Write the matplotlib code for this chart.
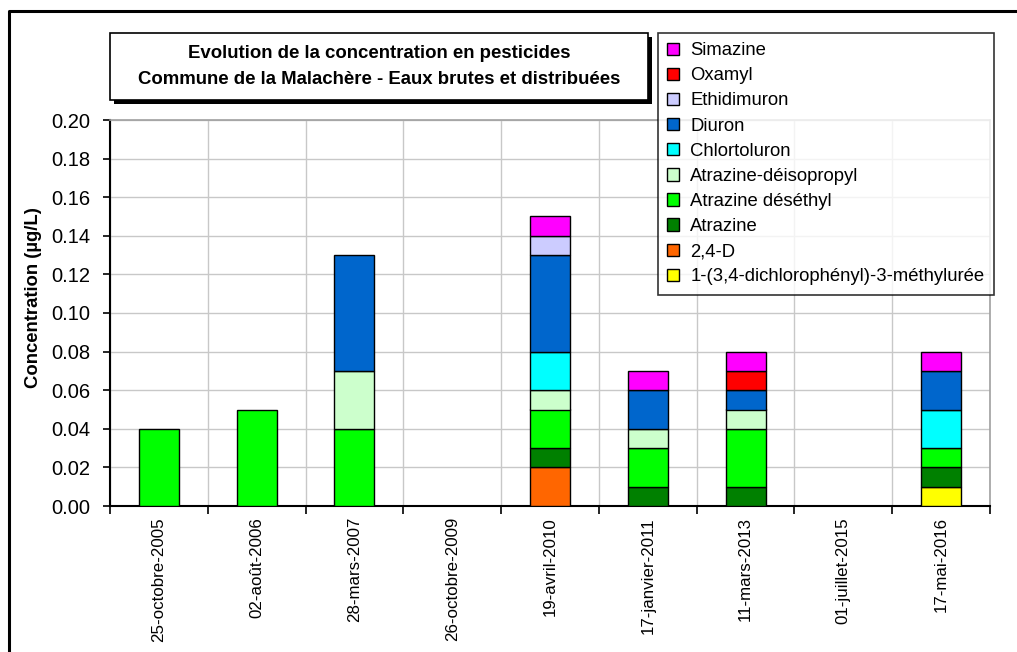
import matplotlib

matplotlib.use("Agg")
import matplotlib.pyplot as plt
import numpy as np
from matplotlib.lines import Line2D
from matplotlib.patches import Patch, Rectangle

plt.rcParams["font.family"] = ["Liberation Sans", "DejaVu Sans"]

dates = [
    "25-octobre-2005",
    "02-août-2006",
    "28-mars-2007",
    "26-octobre-2009",
    "19-avril-2010",
    "17-janvier-2011",
    "11-mars-2013",
    "01-juillet-2015",
    "17-mai-2016",
]

# stacked from bottom to top
dcpmu = [0, 0, 0, 0, 0, 0, 0, 0, 0.01]
d24 = [0, 0, 0, 0, 0.02, 0, 0, 0, 0]
atrazine = [0, 0, 0, 0, 0.01, 0.01, 0.01, 0, 0.01]
deseth = [0.04, 0.05, 0.04, 0, 0.02, 0.02, 0.03, 0, 0.01]
deisop = [0, 0, 0.03, 0, 0.01, 0.01, 0.01, 0, 0]
chlortoluron = [0, 0, 0, 0, 0.02, 0, 0, 0, 0.02]
diuron = [0, 0, 0.06, 0, 0.05, 0.02, 0.01, 0, 0.02]
ethidimuron = [0, 0, 0, 0, 0.01, 0, 0, 0, 0]
oxamyl = [0, 0, 0, 0, 0, 0, 0.01, 0, 0]
simazine = [0, 0, 0, 0, 0.01, 0.01, 0.01, 0, 0.01]

series = [
    ("1-(3,4-dichlorophényl)-3-méthylurée", dcpmu, "#FFFF00"),
    ("2,4-D", d24, "#FF6600"),
    ("Atrazine", atrazine, "#008000"),
    ("Atrazine déséthyl", deseth, "#00FF00"),
    ("Atrazine-déisopropyl", deisop, "#CCFFCC"),
    ("Chlortoluron", chlortoluron, "#00FFFF"),
    ("Diuron", diuron, "#0066CC"),
    ("Ethidimuron", ethidimuron, "#CCCCFF"),
    ("Oxamyl", oxamyl, "#FF0000"),
    ("Simazine", simazine, "#FF00FF"),
]

W, H = 1017, 652
fig = plt.figure(figsize=(W / 100, H / 100), dpi=100)
ax = fig.add_axes([110 / W, 1 - 506 / H, 880 / W, 386 / H])

x = np.arange(len(dates))
bottom = np.zeros(len(dates))
for name, vals, col in series:
    vals = np.asarray(vals, dtype=float)
    nz = vals > 0  # empty segments would leave a stray outline
    ax.bar(x[nz], vals[nz], 0.41, bottom=bottom[nz], color=col,
           edgecolor="black", lw=1.0, zorder=3)
    bottom += vals

ax.set_xlim(-0.5, len(dates) - 0.5)
ax.set_ylim(0, 0.20)
yt = np.arange(0, 0.201, 0.02)
ax.set_yticks(yt)
ax.set_yticklabels([f"{v:.2f}" for v in yt], fontsize=14.5)
ax.set_xticks(x)
ax.set_xticklabels(dates, rotation=90, fontsize=12.2)
ax.tick_params(axis="x", which="major", length=0, pad=8)
ax.set_xticks(np.arange(-0.5, len(dates), 1.0), minor=True)
ax.tick_params(axis="x", which="minor", length=6, width=1.2, direction="out")
ax.tick_params(axis="y", length=5, width=1.2, direction="out", pad=9)
ax.grid(axis="y", color="#c8c8c8", lw=1.0, zorder=0)
ax.grid(axis="x", which="minor", color="#c8c8c8", lw=1.0, zorder=0)
for s in ("top", "right"):
    ax.spines[s].set_color("#a0a0a0")
    ax.spines[s].set_linewidth(1.2)
for s in ("left", "bottom"):
    ax.spines[s].set_linewidth(1.5)
ax.set_ylabel("Concentration (µg/L)", fontsize=13.3, fontweight="bold")
ax.yaxis.set_label_coords(42 / W, 1 - 298 / H, transform=fig.transFigure)

# outer frame
fig.add_artist(Line2D([9 / W, 9 / W, 1.0], [0, 1 - 11 / H, 1 - 11 / H],
                      color="black", lw=2.2, transform=fig.transFigure))

# title box with drop shadow
bx0, by0, bw, bh = 110 / W, 1 - 100 / H, 538 / W, 67 / H
fig.add_artist(Rectangle((bx0 + 4 / W, by0 - 4 / H), bw, bh, transform=fig.transFigure,
                         facecolor="black", edgecolor="none", zorder=5))
fig.add_artist(Rectangle((bx0, by0), bw, bh, transform=fig.transFigure,
                         facecolor="white", edgecolor="black", lw=1.2, zorder=6))
fig.text(bx0 + bw / 2, by0 + bh / 2,
         "Evolution de la concentration en pesticides\n"
         "Commune de la Malachère - Eaux brutes et distribuées",
         ha="center", va="center", fontsize=13.4, fontweight="bold",
         linespacing=1.75, zorder=7)

handles = [Patch(facecolor=col, edgecolor="black", lw=1.0) for _, _, col in series][::-1]
labels = [name for name, _, _ in series][::-1]
leg = fig.legend(handles, labels, loc="upper left",
                 bbox_to_anchor=(658 / W, 1 - 33 / H), bbox_transform=fig.transFigure,
                 fontsize=13.3, frameon=True, fancybox=False, edgecolor="black",
                 handlelength=0.65, handleheight=0.65, handletextpad=0.6,
                 labelspacing=0.44, borderpad=0.5, borderaxespad=0)
leg.get_frame().set_linewidth(1.2)

fig.savefig("out.png", dpi=100)
